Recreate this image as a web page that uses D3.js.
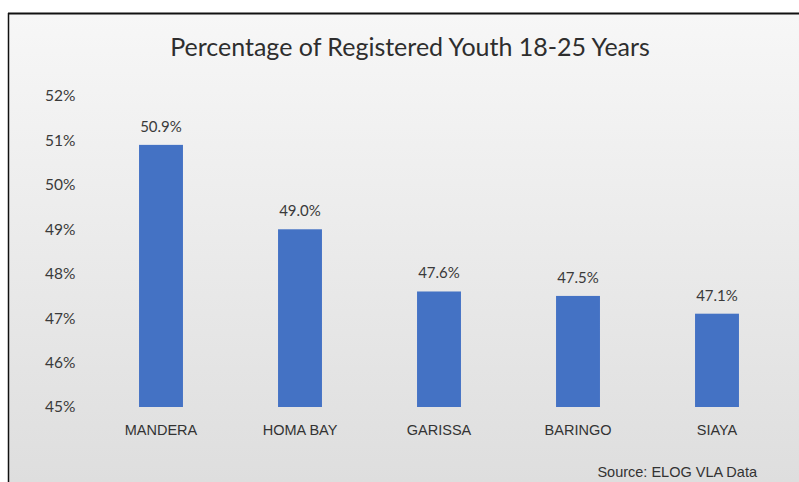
<!DOCTYPE html>
<html><head><meta charset="utf-8">
<script src="https://cdn.jsdelivr.net/npm/d3@7"></script>
<style>html,body{margin:0;padding:0;background:#fff;overflow:hidden}</style>
</head><body>
<svg id="chart" width="799" height="482"></svg>
<script>
const categories = ["MANDERA", "HOMA BAY", "GARISSA", "BARINGO", "SIAYA"];
const values = [50.9, 49.0, 47.6, 47.5, 47.1];
const yTicks = [45, 46, 47, 48, 49, 50, 51, 52];
const title = "Percentage of Registered Youth 18-25 Years";
const source = "Source: ELOG VLA Data";

const svg = d3.select("#chart");
const defs = svg.append("defs");
const grad = defs.append("linearGradient").attr("id", "bg").attr("x1", 0).attr("y1", 0).attr("x2", 0).attr("y2", 1);
grad.append("stop").attr("offset", "0%").attr("stop-color", "#f7f7f7");
grad.append("stop").attr("offset", "100%").attr("stop-color", "#dedede");

svg.append("rect").attr("x", 9).attr("y", 14).attr("width", 790).attr("height", 468).attr("fill", "url(#bg)");
svg.append("line").attr("x1", 8).attr("x2", 799).attr("y1", 13.5).attr("y2", 13.5).attr("stroke", "#111").attr("stroke-width", 2);
svg.append("line").attr("x1", 8.5).attr("x2", 8.5).attr("y1", 13).attr("y2", 482).attr("stroke", "#111").attr("stroke-width", 1.5);

const x = d3.scaleBand().domain(categories).range([91.5, 786.5]).paddingInner(0.684).paddingOuter(0.342);
const y = d3.scaleLinear().domain([45, 52]).range([407, 96]);

svg.append("text").attr("x", 410).attr("y", 56).attr("text-anchor", "middle")
  .attr("font-family", "Lato, 'Open Sans', sans-serif").attr("font-size", 25).attr("fill", "#2e2e2e")
  .text(title);

const yAxis = d3.axisLeft(y).tickValues(yTicks).tickFormat(d => d + "%").tickSize(0).tickPadding(0);
const ya = svg.append("g").attr("transform", "translate(45,0)").call(yAxis);
ya.select(".domain").remove();
ya.selectAll("text").attr("text-anchor", "start").attr("font-family", "Lato, sans-serif").attr("font-size", 15.5).attr("fill", "#3a3a3a");

const xAxis = d3.axisBottom(x).tickSize(0).tickPadding(0);
const xa = svg.append("g").attr("transform", "translate(0,425)").call(xAxis);
xa.select(".domain").remove();
xa.selectAll("text").attr("font-family", "'Liberation Sans', Arial, sans-serif").attr("font-size", 14.5).attr("fill", "#333").attr("dy", "0.71em");

svg.selectAll("rect.bar").data(values).enter().append("rect").attr("class", "bar")
  .attr("x", (d, i) => x(categories[i])).attr("width", x.bandwidth())
  .attr("y", d => y(d)).attr("height", d => y(45) - y(d)).attr("fill", "#4472c4");

svg.selectAll("text.val").data(values).enter().append("text").attr("class", "val")
  .attr("x", (d, i) => x(categories[i]) + x.bandwidth() / 2).attr("y", d => y(d) - 13)
  .attr("text-anchor", "middle").attr("font-family", "Lato, sans-serif").attr("font-size", 15).attr("fill", "#3a3a3a")
  .text(d => d.toFixed(1) + "%");

svg.append("text").attr("x", 757).attr("y", 477).attr("text-anchor", "end")
  .attr("font-family", "'Liberation Sans', Arial, sans-serif").attr("font-size", 14.5).attr("fill", "#333")
  .text(source);
</script>
</body></html>
